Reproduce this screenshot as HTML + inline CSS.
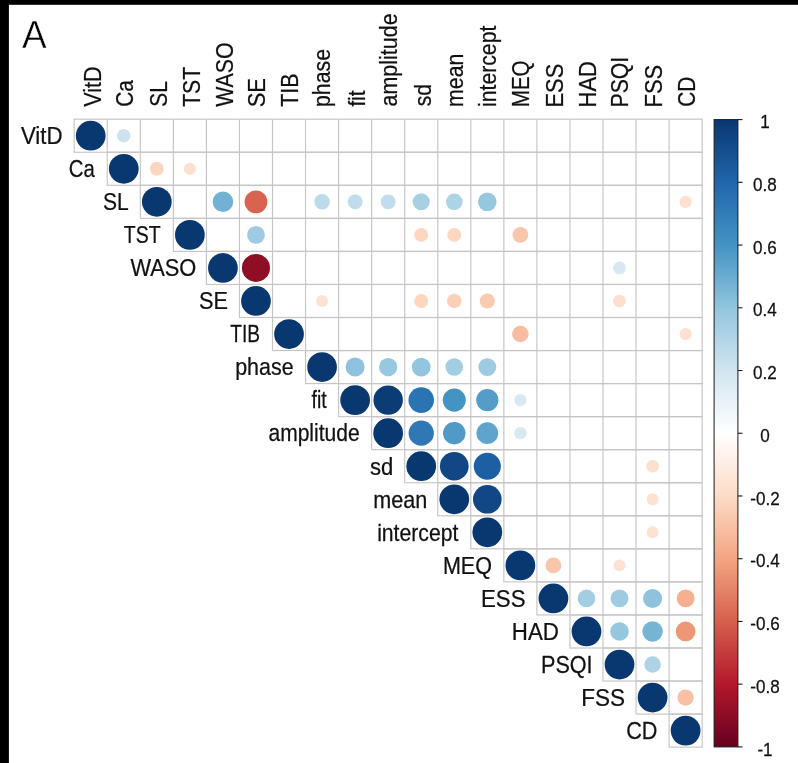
<!DOCTYPE html>
<html lang="en"><head><meta charset="utf-8"><title>Correlation plot A</title>
<style>html,body{margin:0;padding:0;background:#fff;overflow:hidden}svg{display:block}text{stroke:#111;stroke-width:0.25px;font-family:"Liberation Sans",Arial,Helvetica,sans-serif;fill:#111}</style></head><body>
<svg width="798" height="763" viewBox="0 0 798 763">
<rect x="0" y="0" width="798" height="763" fill="#fff"/>
<rect x="0" y="0" width="798" height="4.8" fill="#000"/>
<rect x="0" y="0" width="8.9" height="763" fill="#000"/>
<text transform="translate(22.0 48.3) scale(0.94 1)" font-size="39.3" style="fill:#000;stroke:#fff;stroke-width:0.45px">A</text>
<g fill="none" stroke="#C5C5C5" stroke-width="1.15">
<rect x="74.20" y="119.20" width="627.95" height="33.05"/>
<rect x="107.25" y="152.25" width="594.90" height="33.05"/>
<rect x="140.30" y="185.30" width="561.85" height="33.05"/>
<rect x="173.35" y="218.35" width="528.80" height="33.05"/>
<rect x="206.40" y="251.40" width="495.75" height="33.05"/>
<rect x="239.45" y="284.45" width="462.70" height="33.05"/>
<rect x="272.50" y="317.50" width="429.65" height="33.05"/>
<rect x="305.55" y="350.55" width="396.60" height="33.05"/>
<rect x="338.60" y="383.60" width="363.55" height="33.05"/>
<rect x="371.65" y="416.65" width="330.50" height="33.05"/>
<rect x="404.70" y="449.70" width="297.45" height="33.05"/>
<rect x="437.75" y="482.75" width="264.40" height="33.05"/>
<rect x="470.80" y="515.80" width="231.35" height="33.05"/>
<rect x="503.85" y="548.85" width="198.30" height="33.05"/>
<rect x="536.90" y="581.90" width="165.25" height="33.05"/>
<rect x="569.95" y="614.95" width="132.20" height="33.05"/>
<rect x="603.00" y="648.00" width="99.15" height="33.05"/>
<rect x="636.05" y="681.05" width="66.10" height="33.05"/>
<rect x="669.10" y="714.10" width="33.05" height="33.05"/>
<line x1="107.25" y1="119.20" x2="107.25" y2="152.25"/>
<line x1="140.30" y1="119.20" x2="140.30" y2="185.30"/>
<line x1="173.35" y1="119.20" x2="173.35" y2="218.35"/>
<line x1="206.40" y1="119.20" x2="206.40" y2="251.40"/>
<line x1="239.45" y1="119.20" x2="239.45" y2="284.45"/>
<line x1="272.50" y1="119.20" x2="272.50" y2="317.50"/>
<line x1="305.55" y1="119.20" x2="305.55" y2="350.55"/>
<line x1="338.60" y1="119.20" x2="338.60" y2="383.60"/>
<line x1="371.65" y1="119.20" x2="371.65" y2="416.65"/>
<line x1="404.70" y1="119.20" x2="404.70" y2="449.70"/>
<line x1="437.75" y1="119.20" x2="437.75" y2="482.75"/>
<line x1="470.80" y1="119.20" x2="470.80" y2="515.80"/>
<line x1="503.85" y1="119.20" x2="503.85" y2="548.85"/>
<line x1="536.90" y1="119.20" x2="536.90" y2="581.90"/>
<line x1="569.95" y1="119.20" x2="569.95" y2="614.95"/>
<line x1="603.00" y1="119.20" x2="603.00" y2="648.00"/>
<line x1="636.05" y1="119.20" x2="636.05" y2="681.05"/>
<line x1="669.10" y1="119.20" x2="669.10" y2="714.10"/>
</g>
<g>
<circle cx="90.72" cy="135.72" r="14.87" fill="#093770"/>
<circle cx="123.78" cy="135.72" r="6.82" fill="#CEE3EF"/>
<circle cx="123.78" cy="168.78" r="14.87" fill="#093770"/>
<circle cx="156.82" cy="168.78" r="6.98" fill="#FCD6C0"/>
<circle cx="189.88" cy="168.78" r="6.13" fill="#FDE0CF"/>
<circle cx="156.82" cy="201.82" r="14.87" fill="#093770"/>
<circle cx="222.93" cy="201.82" r="10.30" fill="#72B1D3"/>
<circle cx="255.97" cy="201.82" r="11.42" fill="#D86350"/>
<circle cx="322.07" cy="201.82" r="7.73" fill="#BBDAEA"/>
<circle cx="355.12" cy="201.82" r="7.44" fill="#C1DDEC"/>
<circle cx="388.17" cy="201.82" r="7.44" fill="#C1DDEC"/>
<circle cx="421.22" cy="201.82" r="8.54" fill="#A8D0E4"/>
<circle cx="454.27" cy="201.82" r="8.28" fill="#AED3E6"/>
<circle cx="487.32" cy="201.82" r="9.29" fill="#95C7DF"/>
<circle cx="685.62" cy="201.82" r="6.13" fill="#FDE0CF"/>
<circle cx="189.88" cy="234.88" r="14.87" fill="#093770"/>
<circle cx="255.97" cy="234.88" r="8.92" fill="#9FCBE2"/>
<circle cx="421.22" cy="234.88" r="6.98" fill="#FCD6C0"/>
<circle cx="454.27" cy="234.88" r="6.98" fill="#FCD6C0"/>
<circle cx="520.38" cy="234.88" r="7.87" fill="#F9C5AB"/>
<circle cx="222.93" cy="267.93" r="14.87" fill="#093770"/>
<circle cx="255.97" cy="267.93" r="14.03" fill="#900D26"/>
<circle cx="619.52" cy="267.93" r="6.31" fill="#D6E8F2"/>
<circle cx="255.97" cy="300.97" r="14.87" fill="#093770"/>
<circle cx="322.07" cy="300.97" r="5.95" fill="#FDE2D2"/>
<circle cx="421.22" cy="300.97" r="6.98" fill="#FCD6C0"/>
<circle cx="454.27" cy="300.97" r="7.29" fill="#FBD0B9"/>
<circle cx="487.32" cy="300.97" r="7.58" fill="#FACBB2"/>
<circle cx="619.52" cy="300.97" r="6.31" fill="#FDDFCD"/>
<circle cx="289.02" cy="334.02" r="14.87" fill="#093770"/>
<circle cx="520.38" cy="334.02" r="8.28" fill="#F8BDA1"/>
<circle cx="685.62" cy="334.02" r="6.13" fill="#FDE0CF"/>
<circle cx="322.07" cy="367.07" r="14.87" fill="#093770"/>
<circle cx="355.12" cy="367.07" r="9.52" fill="#8EC2DD"/>
<circle cx="388.17" cy="367.07" r="9.17" fill="#98C8E0"/>
<circle cx="421.22" cy="367.07" r="9.41" fill="#92C5DE"/>
<circle cx="454.27" cy="367.07" r="8.80" fill="#A2CDE2"/>
<circle cx="487.32" cy="367.07" r="8.92" fill="#9FCBE2"/>
<circle cx="355.12" cy="400.12" r="14.87" fill="#093770"/>
<circle cx="388.17" cy="400.12" r="14.72" fill="#0B3C76"/>
<circle cx="421.22" cy="400.12" r="12.79" fill="#2B74B3"/>
<circle cx="454.27" cy="400.12" r="11.52" fill="#4393C3"/>
<circle cx="487.32" cy="400.12" r="11.13" fill="#539DC8"/>
<circle cx="520.38" cy="400.12" r="6.13" fill="#D8E9F2"/>
<circle cx="388.17" cy="433.17" r="14.87" fill="#093770"/>
<circle cx="421.22" cy="433.17" r="12.62" fill="#2F78B5"/>
<circle cx="454.27" cy="433.17" r="11.23" fill="#4F9AC7"/>
<circle cx="487.32" cy="433.17" r="10.83" fill="#5FA4CC"/>
<circle cx="520.38" cy="433.17" r="6.13" fill="#D8E9F2"/>
<circle cx="421.22" cy="466.22" r="14.87" fill="#093770"/>
<circle cx="454.27" cy="466.22" r="14.34" fill="#114785"/>
<circle cx="487.32" cy="466.22" r="13.55" fill="#1D5FA3"/>
<circle cx="652.58" cy="466.22" r="6.31" fill="#FDDFCD"/>
<circle cx="454.27" cy="499.27" r="14.87" fill="#093770"/>
<circle cx="487.32" cy="499.27" r="14.34" fill="#114785"/>
<circle cx="652.58" cy="499.27" r="5.95" fill="#FDE2D2"/>
<circle cx="487.32" cy="532.32" r="14.87" fill="#093770"/>
<circle cx="652.58" cy="532.32" r="5.95" fill="#FDE2D2"/>
<circle cx="520.38" cy="565.38" r="14.87" fill="#093770"/>
<circle cx="553.42" cy="565.38" r="7.87" fill="#F9C5AB"/>
<circle cx="619.52" cy="565.38" r="5.95" fill="#FDE2D2"/>
<circle cx="553.42" cy="598.42" r="14.87" fill="#093770"/>
<circle cx="586.48" cy="598.42" r="8.80" fill="#A2CDE2"/>
<circle cx="619.52" cy="598.42" r="8.92" fill="#9FCBE2"/>
<circle cx="652.58" cy="598.42" r="9.52" fill="#8EC2DD"/>
<circle cx="685.62" cy="598.42" r="8.92" fill="#F6B090"/>
<circle cx="586.48" cy="631.48" r="14.87" fill="#093770"/>
<circle cx="619.52" cy="631.48" r="9.29" fill="#95C7DF"/>
<circle cx="652.58" cy="631.48" r="10.20" fill="#76B4D5"/>
<circle cx="685.62" cy="631.48" r="9.87" fill="#EE9777"/>
<circle cx="619.52" cy="664.52" r="14.87" fill="#093770"/>
<circle cx="652.58" cy="664.52" r="8.28" fill="#AED3E6"/>
<circle cx="652.58" cy="697.58" r="14.87" fill="#093770"/>
<circle cx="685.62" cy="697.58" r="8.15" fill="#F8C0A4"/>
<circle cx="685.62" cy="730.62" r="14.87" fill="#093770"/>
</g>
<g font-size="24" text-anchor="end">
<text transform="translate(62.60 144.03) scale(0.9284 1)">VitD</text>
<text transform="translate(94.85 177.08) scale(0.8471 1)">Ca</text>
<text transform="translate(128.65 210.12) scale(0.8775 1)">SL</text>
<text transform="translate(160.65 243.18) scale(0.8135 1)">TST</text>
<text transform="translate(196.35 276.23) scale(0.9112 1)">WASO</text>
<text transform="translate(228.00 309.27) scale(0.9042 1)">SE</text>
<text transform="translate(260.00 342.32) scale(0.7987 1)">TIB</text>
<text transform="translate(293.60 375.38) scale(0.8929 1)">phase</text>
<text transform="translate(326.80 408.42) scale(0.8164 1)">fit</text>
<text transform="translate(359.60 441.47) scale(0.8766 1)">amplitude</text>
<text transform="translate(393.25 474.52) scale(0.9192 1)">sd</text>
<text transform="translate(427.20 507.57) scale(0.8996 1)">mean</text>
<text transform="translate(458.35 540.62) scale(0.8827 1)">intercept</text>
<text transform="translate(492.00 573.67) scale(0.8981 1)">MEQ</text>
<text transform="translate(525.50 606.72) scale(0.9286 1)">ESS</text>
<text transform="translate(558.90 639.77) scale(0.9288 1)">HAD</text>
<text transform="translate(592.55 672.82) scale(0.8996 1)">PSQI</text>
<text transform="translate(625.10 705.88) scale(0.9398 1)">FSS</text>
<text transform="translate(657.45 738.92) scale(0.9008 1)">CD</text>
</g>
<g font-size="24">
<text transform="translate(101.42 106.85) rotate(-90) scale(0.9023 1)">VitD</text>
<text transform="translate(133.47 106.70) rotate(-90) scale(0.8701 1)">Ca</text>
<text transform="translate(166.52 106.70) rotate(-90) scale(0.8679 1)">SL</text>
<text transform="translate(199.97 106.85) rotate(-90) scale(0.8816 1)">TST</text>
<text transform="translate(233.12 106.85) rotate(-90) scale(0.8892 1)">WASO</text>
<text transform="translate(265.27 107.35) rotate(-90) scale(0.9149 1)">SE</text>
<text transform="translate(297.87 106.85) rotate(-90) scale(0.8917 1)">TIB</text>
<text transform="translate(329.77 106.95) rotate(-90) scale(0.8862 1)">phase</text>
<text transform="translate(364.82 106.60) rotate(-90) scale(0.8590 1)">fit</text>
<text transform="translate(397.17 106.45) rotate(-90) scale(0.8945 1)">amplitude</text>
<text transform="translate(431.22 106.20) rotate(-90) scale(0.8788 1)">sd</text>
<text transform="translate(462.77 106.95) rotate(-90) scale(0.8896 1)">mean</text>
<text transform="translate(495.52 106.95) rotate(-90) scale(0.8838 1)">intercept</text>
<text transform="translate(529.08 107.20) rotate(-90) scale(0.8568 1)">MEQ</text>
<text transform="translate(563.12 107.45) rotate(-90) scale(0.9105 1)">ESS</text>
<text transform="translate(595.68 107.45) rotate(-90) scale(0.9167 1)">HAD</text>
<text transform="translate(628.43 107.45) rotate(-90) scale(0.8841 1)">PSQI</text>
<text transform="translate(662.28 107.45) rotate(-90) scale(0.9159 1)">FSS</text>
<text transform="translate(694.88 106.70) rotate(-90) scale(0.8702 1)">CD</text>
</g>
<defs><linearGradient id="cb" x1="0" y1="1" x2="0" y2="0">
<stop offset="0%" stop-color="#67001F"/>
<stop offset="10%" stop-color="#B2182B"/>
<stop offset="20%" stop-color="#D6604D"/>
<stop offset="30%" stop-color="#F4A582"/>
<stop offset="40%" stop-color="#FDDBC7"/>
<stop offset="50%" stop-color="#FFFFFF"/>
<stop offset="60%" stop-color="#D1E5F0"/>
<stop offset="70%" stop-color="#92C5DE"/>
<stop offset="80%" stop-color="#4393C3"/>
<stop offset="90%" stop-color="#2166AC"/>
<stop offset="100%" stop-color="#093770"/>
</linearGradient></defs>
<rect x="714.1" y="119.6" width="23.80" height="627.30" fill="url(#cb)" stroke="#1a1a1a" stroke-width="1"/>
<g stroke="#1a1a1a" stroke-width="1.1">
<line x1="737.9" y1="119.60" x2="742.50" y2="119.60"/>
<line x1="737.9" y1="182.33" x2="742.50" y2="182.33"/>
<line x1="737.9" y1="245.06" x2="742.50" y2="245.06"/>
<line x1="737.9" y1="307.79" x2="742.50" y2="307.79"/>
<line x1="737.9" y1="370.52" x2="742.50" y2="370.52"/>
<line x1="737.9" y1="433.25" x2="742.50" y2="433.25"/>
<line x1="737.9" y1="495.98" x2="742.50" y2="495.98"/>
<line x1="737.9" y1="558.71" x2="742.50" y2="558.71"/>
<line x1="737.9" y1="621.44" x2="742.50" y2="621.44"/>
<line x1="737.9" y1="684.17" x2="742.50" y2="684.17"/>
<line x1="737.9" y1="746.90" x2="742.50" y2="746.90"/>
</g>
<g font-size="18" text-anchor="middle">
<text transform="translate(765 128.30) scale(0.95 1)">1</text>
<text transform="translate(765 191.03) scale(0.95 1)">0.8</text>
<text transform="translate(765 253.76) scale(0.95 1)">0.6</text>
<text transform="translate(765 316.49) scale(0.95 1)">0.4</text>
<text transform="translate(765 379.22) scale(0.95 1)">0.2</text>
<text transform="translate(765 441.95) scale(0.95 1)">0</text>
<text transform="translate(765 504.68) scale(0.95 1)">-0.2</text>
<text transform="translate(765 567.41) scale(0.95 1)">-0.4</text>
<text transform="translate(765 630.14) scale(0.95 1)">-0.6</text>
<text transform="translate(765 692.87) scale(0.95 1)">-0.8</text>
<text transform="translate(765 755.60) scale(0.95 1)">-1</text>
</g>
</svg></body></html>
